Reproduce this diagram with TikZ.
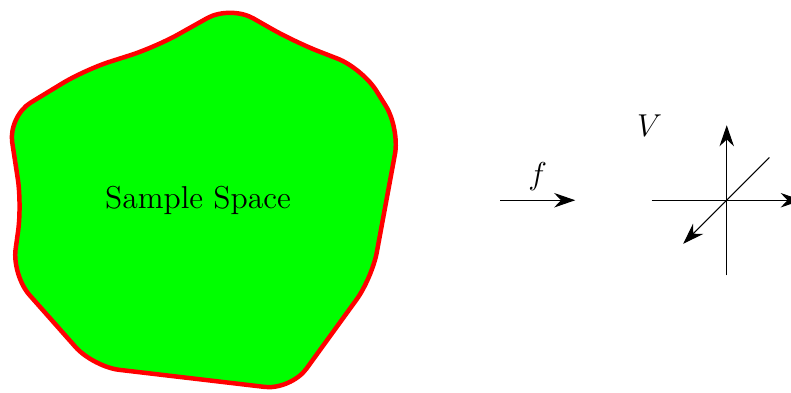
\documentclass[tikz,border=0pt]{standalone}
\usetikzlibrary{arrows.meta}
\begin{document}
\begin{tikzpicture}[font=\large, vec/.style={-{Stealth[length=8pt,width=5.5pt]}}]
\useasboundingbox (0,0) rectangle (10.547,5.24);
% sample space
\filldraw[fill=green, draw=red, line width=1.7pt, rounded corners=0.35cm]
  (1.13,4.31) -- (2.07,4.61) -- (3.07,5.17) -- (3.93,4.68) -- (4.83,4.33)
  -- (5.33,3.53) -- (4.96,1.53) -- (3.88,0.04) -- (1.24,0.35) -- (0.16,1.57)
  -- (0.29,2.51) -- (0.11,3.69) -- cycle;
\node (space) at (2.64,2.57) {Sample Space};
% map f
\coordinate (fstart) at (6.67,2.57);
\coordinate (fend) at (7.67,2.57);
\draw[vec] (fstart) -- node[above] (flabel) {$f$} (fend);
% vector space V
\begin{scope}[shift={(9.69,2.57)}]
\coordinate (O) at (0,0);
\coordinate (xl) at (-1,0);
\coordinate (xr) at (1,0);
\coordinate (yb) at (0,-1);
\coordinate (yt) at (0,1);
\coordinate (zb) at (0.57,0.57);
\coordinate (zf) at (-0.58,-0.58);
\draw[vec] (xl) -- (xr);
\draw[vec] (yb) -- (yt);
\draw[vec] (zb) -- (zf);
\node (vlabel) at (-1.03,1) {$V$};
\end{scope}
\end{tikzpicture}
\end{document}
